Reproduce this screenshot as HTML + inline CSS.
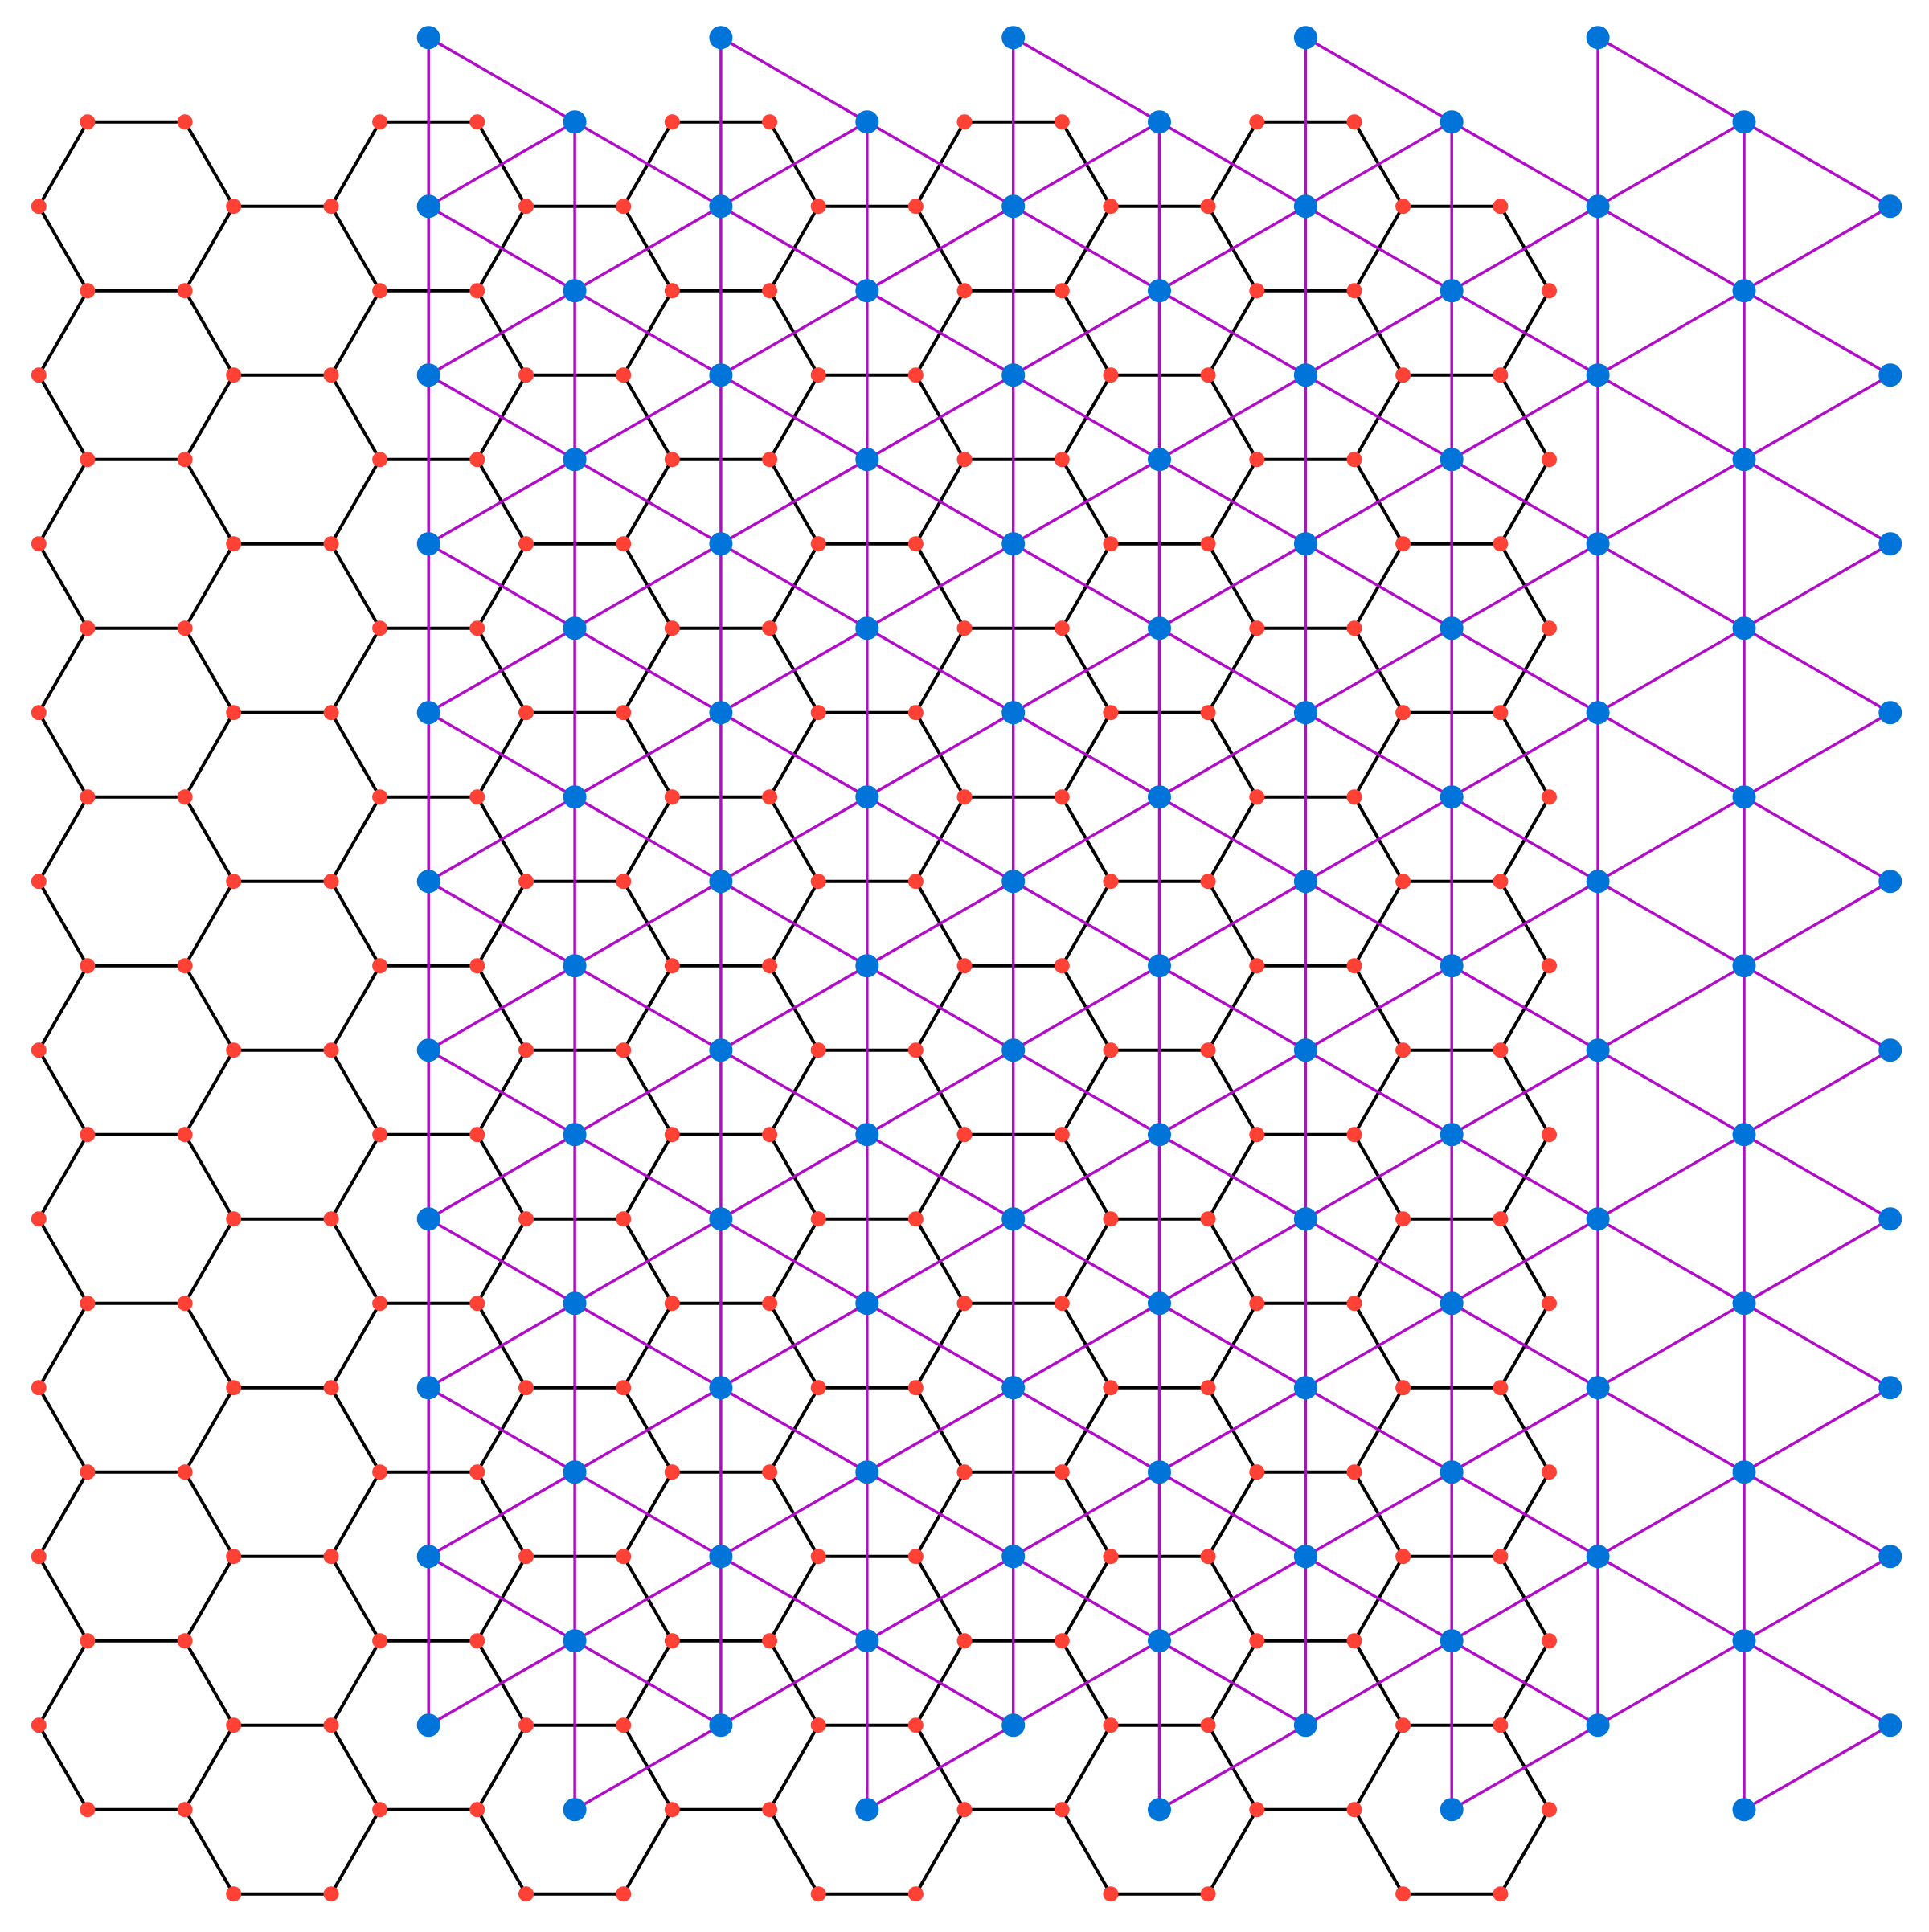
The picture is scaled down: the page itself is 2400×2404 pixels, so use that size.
<!DOCTYPE html>
<html><head><meta charset="utf-8"><title>Honeycomb and triangular dual lattice</title>
<style>html,body{margin:0;padding:0;background:#fff}svg{display:block}</style></head>
<body>
<svg id="chart" width="2400" height="2404" viewBox="0 0 2400 2404" xmlns="http://www.w3.org/2000/svg">
<g id="black-edges"></g>
<g id="purple-edges"></g>
<g id="red-nodes"></g>
<g id="blue-nodes"></g>
</svg>
<script>
// data
const hexColumns = [0,1,2,3,4,5,6,7,8,9];
const hexRows = [0,1,2,3,4,5,6,7,8,9];
const blueColumns = [2,3,4,5,6,7,8,9,10,11,12];
const blueRowStart = [-1,-1,-1,-1,-1,-1,-1,-1,-1,-1,0];
const blueRowEnd = [9,9,9,9,9,9,9,9,9,9,9];
const verticalColumns = [2,3,4,5,6,7,8,9,10,11];

// axis functions
const A = 121.24, H = 105;
function colX(i){ return 169.5 + 1.5*A*i; }
function rowY(i,j){ return 256.7 + 2*H*j + (i%2 ? H : 0); }

const NS = "http://www.w3.org/2000/svg";
const gB = document.getElementById('black-edges');
const gP = document.getElementById('purple-edges');
const gR = document.getElementById('red-nodes');
const gL = document.getElementById('blue-nodes');
function line(g, x1,y1,x2,y2, color, w, name){
  const l = document.createElementNS(NS,'line');
  l.setAttribute('x1',x1.toFixed(1)); l.setAttribute('y1',y1.toFixed(1));
  l.setAttribute('x2',x2.toFixed(1)); l.setAttribute('y2',y2.toFixed(1));
  l.setAttribute('stroke',color); l.setAttribute('stroke-width',w);
  
  
  g.appendChild(l);
}
function circ(g,x,y,r,color,name){
  const c = document.createElementNS(NS,'circle');
  c.setAttribute('cx',x.toFixed(1)); c.setAttribute('cy',y.toFixed(1));
  c.setAttribute('r',r); c.setAttribute('fill',color);
  
  
  g.appendChild(c);
}

// honeycomb
const verts = new Map(), edges = new Map();
const key = (x,y)=>Math.round(x)+','+Math.round(y);
hexColumns.forEach(i=>{
  hexRows.forEach(j=>{
    const cx = colX(i), cy = rowY(i,j);
    const P = [[cx+A,cy],[cx+A/2,cy+H],[cx-A/2,cy+H],[cx-A,cy],[cx-A/2,cy-H],[cx+A/2,cy-H]];
    P.forEach(p=>verts.set(key(p[0],p[1]),p));
    for(let k=0;k<6;k++){
      const p=P[k], q=P[(k+1)%6];
      const ek=[key(p[0],p[1]),key(q[0],q[1])].sort().join('|');
      edges.set(ek,[p,q]);
    }
  });
});
edges.forEach(([p,q])=>line(gB,p[0],p[1],q[0],q[1],'#000',4,'honeycomb-edge'));

// triangular lattice (hexagon centers)
const bnodes = [];
blueColumns.forEach((k,idx)=>{
  for(let j=blueRowStart[idx]; j<=blueRowEnd[idx]; j++){
    bnodes.push({k, j, x: colX(k), y: rowY(k,j)});
  }
});
const bset = new Map(bnodes.map(n=>[n.k+','+n.j,n]));
const P_COL='#B10DC9';
bnodes.forEach(n=>{
  const up = bset.get(n.k+','+(n.j+1));
  if(up && verticalColumns.includes(n.k)) line(gP,n.x,n.y,up.x,up.y,P_COL,3.5,'triangular-edge');
  let dr, ur;
  if(n.k%2===0){
    // even -> odd
    dr = (n.j<9) ? bset.get((n.k+1)+','+n.j) : null;
    ur = bset.get((n.k+1)+','+(n.j-1));
  } else {
    // odd -> even
    dr = bset.get((n.k+1)+','+(n.j+1));
    ur = (n.j>=0) ? bset.get((n.k+1)+','+n.j) : null;
  }
  if(dr) line(gP,n.x,n.y,dr.x,dr.y,P_COL,3.5,'triangular-edge');
  if(ur) line(gP,n.x,n.y,ur.x,ur.y,P_COL,3.5,'triangular-edge');
});

verts.forEach(p=>circ(gR,p[0],p[1],9.5,'#FF4136','honeycomb-node'));
bnodes.forEach(n=>circ(gL,n.x,n.y,14.5,'#0074D9','triangular-node'));
</script>
</body></html>
